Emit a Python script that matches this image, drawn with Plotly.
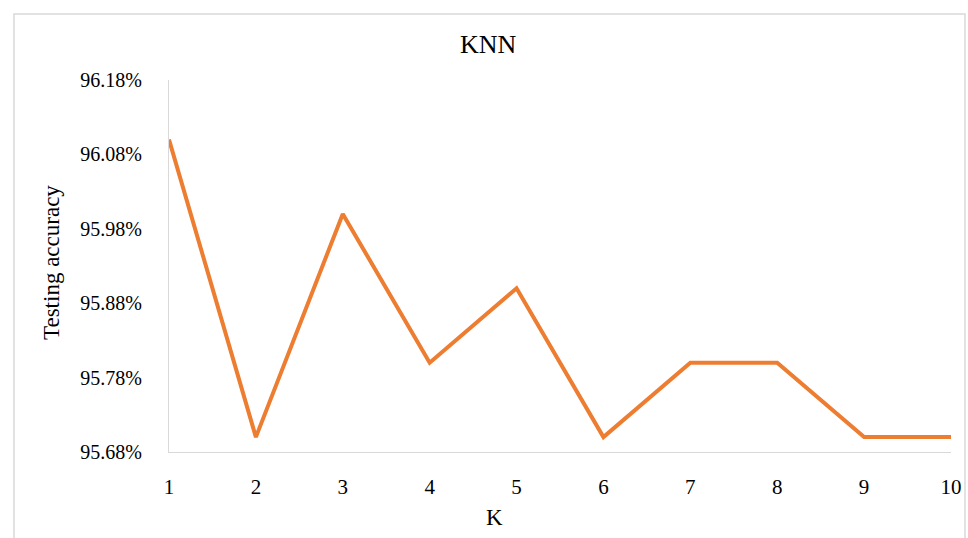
import plotly.graph_objects as go

# K values and test accuracy (%)
k_values = [1, 2, 3, 4, 5, 6, 7, 8, 9, 10]
accuracy = [96.10, 95.70, 96.00, 95.80, 95.90, 95.70, 95.80, 95.80, 95.70, 95.70]
y_ticks = [95.68, 95.78, 95.88, 95.98, 96.08, 96.18]
y_tick_text = [f"{v:.2f}%" for v in y_ticks]

W, H = 968, 538
L, R, T, B = 169, 951, 80, 452  # plot area in pixels
pw, ph = R - L, B - T


def px_x(x):
    return (x - L) / pw


def px_y(y):
    return (B - y) / ph


font = "Liberation Serif"
grey = "#d9d9d9"

fig = go.Figure(
    go.Scatter(
        x=k_values,
        y=accuracy,
        mode="lines",
        line=dict(color="#ED7D31", width=4),
        hoverinfo="x+y",
    )
)

fig.update_layout(
    template="none",
    width=W,
    height=H,
    margin=dict(l=L, r=W - R, t=T, b=H - B, autoexpand=False),
    paper_bgcolor="white",
    plot_bgcolor="white",
    showlegend=False,
    font=dict(family=font, size=21, color="#000000"),
    xaxis=dict(
        range=[1, 10],
        tickvals=k_values,
        tickfont=dict(family=font, size=21),
        automargin=False,
        showgrid=False,
        zeroline=False,
        showline=True,
        linecolor=grey,
        linewidth=1,
        ticks="",
        ticklabelstandoff=16,
    ),
    yaxis=dict(
        range=[y_ticks[0], y_ticks[-1]],
        tickvals=y_ticks,
        ticktext=y_tick_text,
        tickfont=dict(family=font, size=20),
        automargin=False,
        showgrid=False,
        zeroline=False,
        showline=True,
        linecolor=grey,
        linewidth=1,
        ticks="",
        ticklabelstandoff=22,
    ),
    annotations=[
        dict(text="KNN", xref="paper", yref="paper", x=px_x(488), y=px_y(44),
             showarrow=False, xanchor="center", yanchor="middle",
             font=dict(family=font, size=26)),
        dict(text="K", xref="paper", yref="paper", x=px_x(494), y=px_y(517),
             showarrow=False, xanchor="center", yanchor="middle",
             font=dict(family=font, size=23)),
        dict(text="Testing accuracy", xref="paper", yref="paper", x=px_x(51), y=px_y(263),
             showarrow=False, xanchor="center", yanchor="middle", textangle=-90,
             font=dict(family=font, size=23)),
    ],
    shapes=[
        dict(type="rect", xref="paper", yref="paper",
             x0=px_x(14), x1=px_x(965), y0=px_y(545), y1=px_y(14),
             line=dict(color=grey, width=1.5), fillcolor="rgba(0,0,0,0)", layer="below"),
    ],
)

fig.write_html("out.html")
